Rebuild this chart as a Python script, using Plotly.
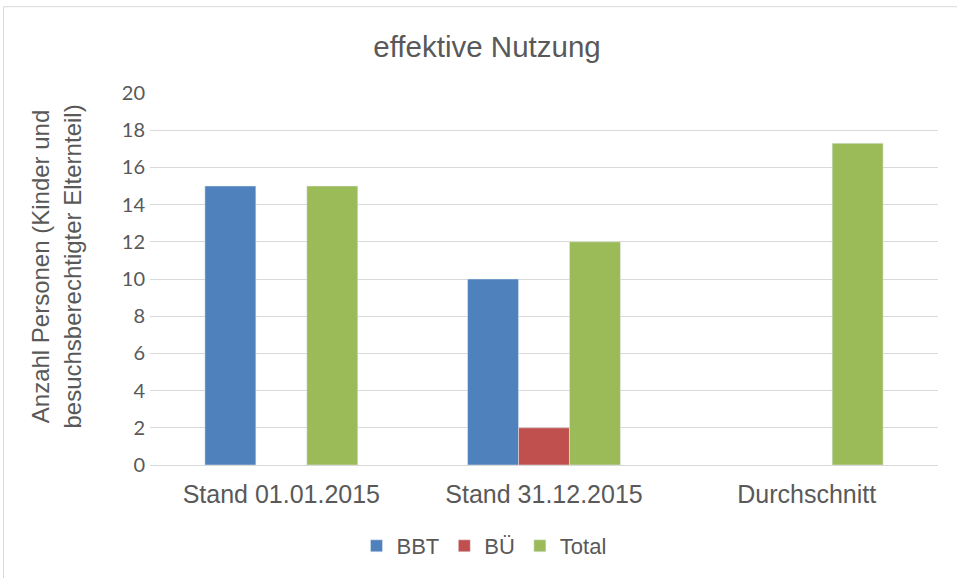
import plotly.graph_objects as go

categories = ["Stand 01.01.2015", "Stand 31.12.2015", "Durchschnitt"]
bbt = [15, 10, None]
bue = [None, 2, None]
total = [15, 12, 17.3]
y_ticks = [0, 2, 4, 6, 8, 10, 12, 14, 16, 18, 20]

W, H = 957, 578
L, R, T, B = 150, 19, 93, 112
pw = W - L - R
ph = H - T - B

def px(x):
    return (x - L) / pw

def py(y):
    return (H - B - y) / ph

fig = go.Figure()
fig.add_bar(name="BBT", x=categories, y=bbt, marker_color="#4F81BD")
fig.add_bar(name="BÜ", x=categories, y=bue, marker_color="#C0504D")
fig.add_bar(name="Total", x=categories, y=total, marker_color="#9BBB59")

fig.update_layout(
    width=W, height=H,
    margin=dict(l=L, r=R, t=T, b=B),
    paper_bgcolor="white", plot_bgcolor="white",
    barmode="group", bargap=0.418, bargroupgap=0,
    title=dict(text="effektive Nutzung", x=487 / W, xanchor="center",
               y=1 - 47 / H, yanchor="middle",
               font=dict(family="Liberation Sans, Arial", size=29.5, color="#595959")),
    showlegend=True,
    legend=dict(orientation="h", x=px(484), xanchor="center", y=py(546), yanchor="middle",
                font=dict(family="Liberation Sans, Arial", size=22, color="#595959"),
                itemwidth=30, traceorder="normal"),
    xaxis=dict(showgrid=False, showline=False, ticks="", ticklabelstandoff=12,
               tickfont=dict(family="Liberation Sans, Arial", size=25, color="#595959")),
    yaxis=dict(range=[0, 20], tickvals=y_ticks, showgrid=True, gridcolor="#D9D9D9",
               gridwidth=1, zeroline=True, zerolinecolor="#D9D9D9", zerolinewidth=1,
               showline=False, ticks="", ticklabelstandoff=4,
               tickfont=dict(family="Lato, Open Sans", size=20, color="#595959")),
)

fig.add_annotation(
    text="Anzahl Personen (Kinder und<br>besuchsberechtigter Elternteil)",
    xref="paper", yref="paper", x=px(56), y=py(267), xanchor="center", yanchor="middle",
    textangle=-90, showarrow=False,
    font=dict(family="Liberation Sans, Arial", size=24, color="#595959"),
)

fig.add_shape(type="rect", xref="paper", yref="paper",
              x0=px(3.5), x1=px(W + 5), y0=py(H + 5), y1=py(6.5),
              line=dict(color="#D9D9D9", width=1), fillcolor="rgba(0,0,0,0)", layer="below")

fig.write_html("out.html", config={"displayModeBar": False},
               post_script="document.body.style.margin='0';")
